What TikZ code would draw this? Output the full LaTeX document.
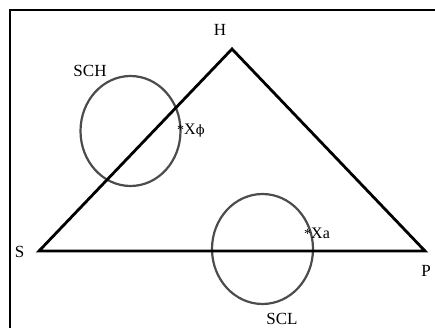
\documentclass[tikz,border=0pt]{standalone}
\usepackage{fontspec}
\setmainfont{Liberation Serif}
\newfontfamily\phifont{DejaVu Serif}
\usetikzlibrary{shapes.geometric}
\begin{document}
\begin{tikzpicture}[x=1pt,y=-1pt,
  lbl/.style={inner sep=0pt,font=\fontsize{17}{19}\selectfont},
  small/.style={inner sep=0pt,font=\fontsize{16}{18}\selectfont,anchor=base west},
  region/.style={draw=black!70,line width=2.2pt,ellipse,inner sep=0pt},
  side/.style={line width=2.8pt,line join=miter}]
\useasboundingbox (0,0) rectangle (435,328);
\fill[white] (0,0) rectangle (435,328);
\draw[line width=1.3pt] (10,345) -- (10,10) -- (445,10);
% regions
\node[region,minimum width=100pt,minimum height=110pt] (sch) at (130.5,131) {};
\node[region,minimum width=101pt,minimum height=110pt] (scl) at (262.5,249) {};
% triangle
\coordinate (s) at (39,251);
\coordinate (h) at (232,49);
\coordinate (p) at (425,251);
\draw[side] (s) -- (h) -- (p) -- cycle;
% labels
\node[lbl] (lh) at (220,30) {H};
\node[lbl] (ls) at (19.5,252) {S};
\node[lbl] (lp) at (426,271) {P};
\node[lbl] (lsch) at (90,71) {SCH};
\node[lbl,anchor=north] (lscl) at (282,313) {SCL};
\node[small] (xphi) at (177,135) {{\fontsize{14}{14}\selectfont *}X{\phifont\fontsize{13}{15}\selectfont ϕ}};
\node[small] (xa) at (304,238) {{\fontsize{14}{14}\selectfont *}Xa};
\end{tikzpicture}
\end{document}
